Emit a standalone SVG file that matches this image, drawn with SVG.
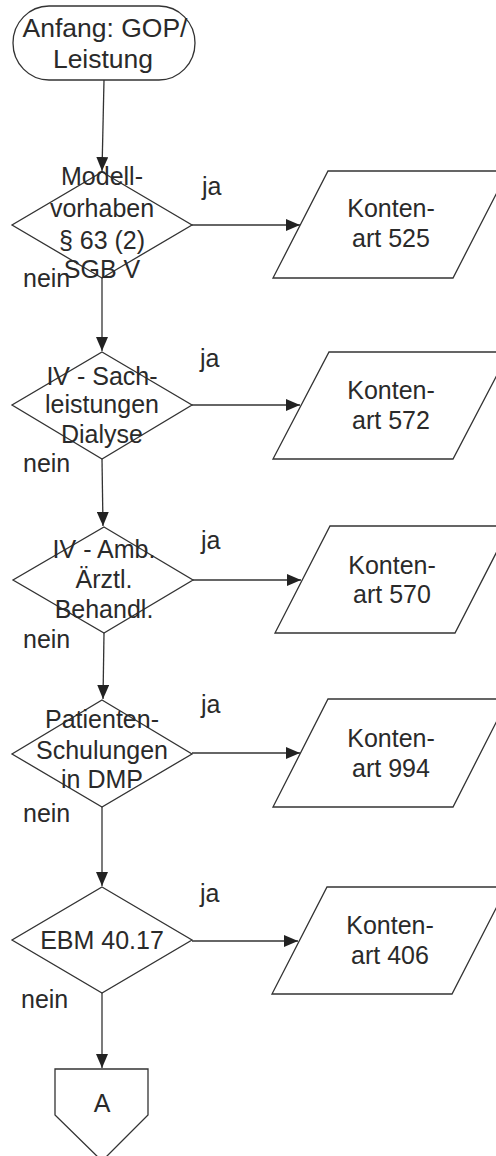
<svg xmlns="http://www.w3.org/2000/svg" width="496" height="1156" viewBox="0 0 496 1156">
<defs>
<marker id="ah" viewBox="0 0 14 12" refX="14" refY="6" markerWidth="14" markerHeight="12" markerUnits="userSpaceOnUse" orient="auto">
<path d="M0,0 L14,6 L0,12 Z" fill="#222"/>
</marker>
<style>
.s{fill:#fff;stroke:#333;stroke-width:1.3}
.t{font-family:"Liberation Sans",Arial,sans-serif;font-size:25px;fill:#2a2a2a;text-anchor:middle}
.big{font-size:26.5px}
.l{font-family:"Liberation Sans",Arial,sans-serif;font-size:25px;fill:#2a2a2a}
.c{fill:none;stroke:#333;stroke-width:1.3;marker-end:url(#ah)}
</style>
</defs>
<rect width="496" height="1156" fill="#fff"/>
<g id="connectors">
<path class="c" d="M104,80 L102,171"/>
<path class="c" d="M102,278 L102,351"/>
<path class="c" d="M102,459 L103,526"/>
<path class="c" d="M104,633 L103,699"/>
<path class="c" d="M102,807 L102,886"/>
<path class="c" d="M102,993 L102,1068"/>
<path class="c" d="M192,225 L300,225"/>
<path class="c" d="M192,405 L300,405"/>
<path class="c" d="M193,580 L301,580"/>
<path class="c" d="M192,753 L300,753"/>
<path class="c" d="M192,941 L298,941"/>
</g>
<g id="start">
<rect class="s" x="13" y="6" width="182" height="74" rx="36" ry="37"/>
<text class="t big" x="105" y="37">Anfang: GOP/</text>
<text class="t big" x="103" y="68">Leistung</text>
</g>
<g id="d1">
<polygon class="s" points="102,172 192,225 102,278 12,225"/>
<text class="t" x="102" y="185">Modell-</text>
<text class="t" x="102" y="217">vorhaben</text>
<text class="t" x="102" y="249">§ 63 (2)</text>
<text class="t" x="102" y="278">SGB V</text>
</g>
<g id="p1">
<polygon class="s" points="328,171 508,171 453,278 273,278"/>
<text class="t" x="391" y="217">Konten-</text>
<text class="t" x="391" y="247">art 525</text>
</g>
<g id="d2">
<polygon class="s" points="102,352 192,405 102,459 12,405"/>
<text class="t" x="102" y="385">IV - Sach-</text>
<text class="t" x="102" y="413">leistungen</text>
<text class="t" x="102" y="443">Dialyse</text>
</g>
<g id="p2">
<polygon class="s" points="329,352 509,352 453,459 273,459"/>
<text class="t" x="391" y="399">Konten-</text>
<text class="t" x="391" y="429">art 572</text>
</g>
<g id="d3">
<polygon class="s" points="104,527 193,580 104,633 13,580"/>
<text class="t" x="104" y="558">IV - Amb.</text>
<text class="t" x="104" y="588">Ärztl.</text>
<text class="t" x="104" y="618">Behandl.</text>
</g>
<g id="p3">
<polygon class="s" points="330,526 510,526 455,633 275,633"/>
<text class="t" x="392" y="574">Konten-</text>
<text class="t" x="392" y="603">art 570</text>
</g>
<g id="d4">
<polygon class="s" points="102,700 192,754 102,807 12,754"/>
<text class="t" x="102" y="728">Patienten-</text>
<text class="t" x="102" y="759">Schulungen</text>
<text class="t" x="102" y="788">in DMP</text>
</g>
<g id="p4">
<polygon class="s" points="328,699 508,699 453,807 273,807"/>
<text class="t" x="391" y="747">Konten-</text>
<text class="t" x="391" y="777">art 994</text>
</g>
<g id="d5">
<polygon class="s" points="102,887 192,940 102,993 12,940"/>
<text class="t" x="102" y="949">EBM 40.17</text>
</g>
<g id="p5">
<polygon class="s" points="327,887 507,887 452,994 272,994"/>
<text class="t" x="390" y="934">Konten-</text>
<text class="t" x="390" y="964">art 406</text>
</g>
<g id="connectorA">
<polygon class="s" points="55,1069 148,1069 148,1115 102,1161 55,1115"/>
<text class="t" x="102" y="1112">A</text>
</g>
<g id="labels">
<text class="l" x="202" y="195">ja</text>
<text class="l" x="200" y="367">ja</text>
<text class="l" x="201" y="549">ja</text>
<text class="l" x="201" y="713">ja</text>
<text class="l" x="200" y="902">ja</text>
<text class="l" x="23" y="287">nein</text>
<text class="l" x="23" y="472">nein</text>
<text class="l" x="23" y="648">nein</text>
<text class="l" x="23" y="822">nein</text>
<text class="l" x="21" y="1008">nein</text>
</g>
</svg>
